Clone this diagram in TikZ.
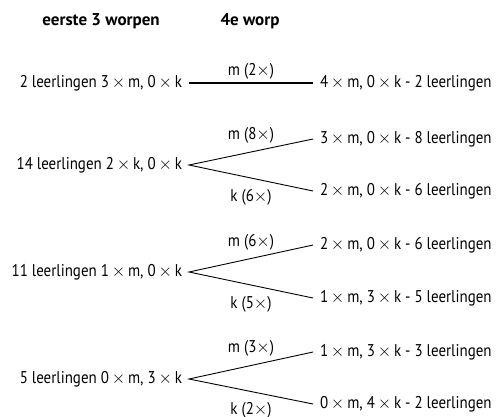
\documentclass[tikz,border=0pt]{standalone}
\usepackage{fontspec}
\setmainfont{PT Sans}[FakeStretch=0.88, BoldFeatures={FakeStretch=1.0}]
\newcommand{\tms}{\,$\times$\,}
\begin{document}
\begin{tikzpicture}[x=1pt,y=-1pt,
  txt/.style={inner sep=0pt, outer xsep=7pt, font=\fontsize{17}{20}\selectfont},
  hdr/.style={inner sep=0pt, font=\bfseries\fontsize{17}{20}\selectfont},
  lbl/.style={inner sep=0pt, font=\fontsize{17}{20}\selectfont},
  br/.style={line width=0.9pt}]
\useasboundingbox (0,0) rectangle (496,416);
% headers
\node[hdr] (h1) at (101,21) {eerste 3 worpen};
\node[hdr] (h2) at (250,21) {4e worp};
% row 1
\node[txt, anchor=east] (l1) at (189,83) {2 leerlingen 3\tms m, 0\tms k};
\node[txt, anchor=west] (r1) at (313,83) {4\tms m, 0\tms k - 2 leerlingen};
\draw[br, line width=1.2pt] (l1.east) -- (r1.west);
\node[lbl] (m1) at (251,71) {m (2$\times$)};
% row 2
\node[txt, anchor=east] (l2) at (189,165) {14 leerlingen 2\tms k, 0\tms k};
\node[txt, anchor=west] (r2a) at (313,139) {3\tms m, 0\tms k - 8 leerlingen};
\node[txt, anchor=west] (r2b) at (313,191) {2\tms m, 0\tms k - 6 leerlingen};
\draw[br] (r2a.west) -- (l2.east) -- (r2b.west);
\node[lbl] (m2) at (251,135) {m (8$\times$)};
\node[lbl] (k2) at (251,197) {k (6$\times$)};
% row 3
\node[txt, anchor=east] (l3) at (189,272) {11 leerlingen 1\tms m, 0\tms k};
\node[txt, anchor=west] (r3a) at (313,245) {2\tms m, 0\tms k - 6 leerlingen};
\node[txt, anchor=west] (r3b) at (313,298) {1\tms m, 3\tms k - 5 leerlingen};
\draw[br] (r3a.west) -- (l3.east) -- (r3b.west);
\node[lbl] (m3) at (251,242) {m (6$\times$)};
\node[lbl] (k3) at (251,304) {k (5$\times$)};
% row 4
\node[txt, anchor=east] (l4) at (189,379) {5 leerlingen 0\tms m, 3\tms k};
\node[txt, anchor=west] (r4a) at (313,352) {1\tms m, 3\tms k - 3 leerlingen};
\node[txt, anchor=west] (r4b) at (313,404) {0\tms m, 4\tms k - 2 leerlingen};
\draw[br] (r4a.west) -- (l4.east) -- (r4b.west);
\node[lbl] (m4) at (251,348) {m (3$\times$)};
\node[lbl] (k4) at (251,410) {k (2$\times$)};
\end{tikzpicture}
\end{document}
